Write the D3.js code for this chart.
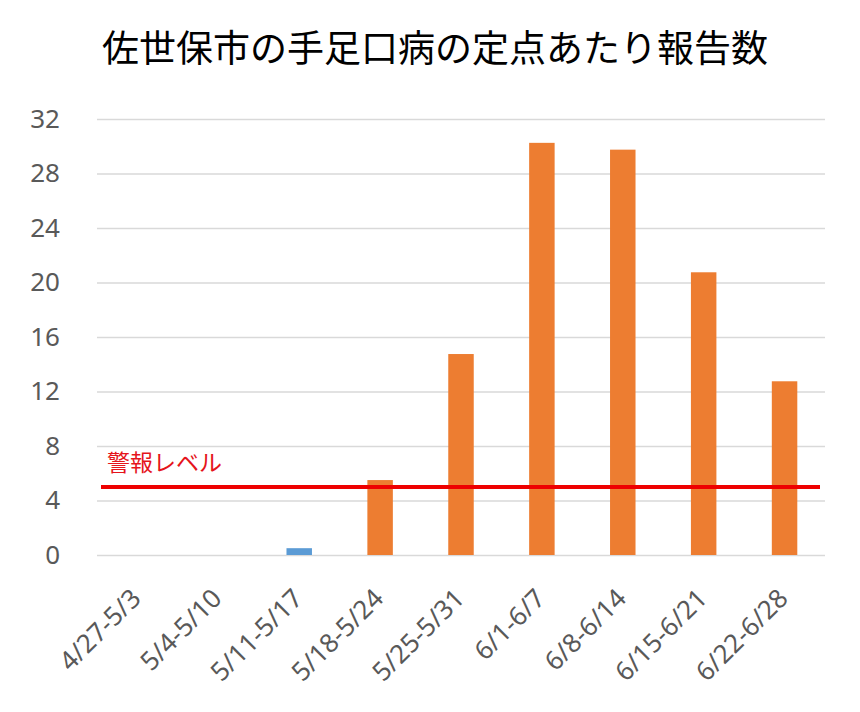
<!DOCTYPE html>
<html>
<head>
<meta charset="utf-8">
<script src="https://cdn.jsdelivr.net/npm/d3@7"></script>
<style>
  body { margin: 0; background: #fff; }
  svg { display: block; }
</style>
</head>
<body>
<div class="chart"></div>
<script>
// data
const title = "佐世保市の手足口病の定点あたり報告数";
const weeks = ["4/27-5/3", "5/4-5/10", "5/11-5/17", "5/18-5/24", "5/25-5/31",
               "6/1-6/7", "6/8-6/14", "6/15-6/21", "6/22-6/28"];
const reports = [0, 0, 0.5, 5.5, 14.75, 30.25, 29.75, 20.75, 12.75];
const alertLevel = 5;
const alertLabel = "警報レベル";
const yTicks = [0, 4, 8, 12, 16, 20, 24, 28, 32];

const width = 860, height = 712;
const margin = { top: 119, right: 35, bottom: 157, left: 97 };

const svg = d3.select(".chart").append("svg")
    .attr("width", width)
    .attr("height", height);

const x = d3.scaleBand()
    .domain(weeks)
    .range([margin.left, width - margin.right])
    .paddingInner(0.685)
    .paddingOuter(0.685 / 2);

const y = d3.scaleLinear()
    .domain([0, 32])
    .range([height - margin.bottom, margin.top]);

// title
svg.append("text")
    .attr("x", 435)
    .attr("y", 62)
    .attr("text-anchor", "middle")
    .style("font-family", "'Noto Sans CJK JP', sans-serif")
    .style("font-size", "37px")
    .style("fill", "#000")
    .text(title);

// gridlines + y labels
svg.append("g")
    .attr("transform", `translate(${margin.left},0)`)
    .call(d3.axisLeft(y).tickValues(yTicks).tickSize(0).tickPadding(37))
    .call(g => g.select(".domain").remove())
    .call(g => g.selectAll(".tick line").clone()
        .attr("x2", width - margin.right - margin.left)
        .attr("stroke", "#d9d9d9")
        .attr("stroke-width", 1.5))
    .call(g => g.selectAll(".tick text")
        .style("font-family", "'Noto Sans', sans-serif")
        .style("font-size", "26px")
        .style("fill", "#595959"));

// bars
svg.append("g")
    .selectAll("rect")
    .data(reports)
    .join("rect")
    .attr("x", (d, i) => x(weeks[i]))
    .attr("y", d => y(d))
    .attr("width", x.bandwidth())
    .attr("height", d => y(0) - y(d))
    .attr("fill", d => d >= alertLevel ? "#ed7d31" : "#5b9bd5");

// x labels
svg.append("g")
    .selectAll("text")
    .data(weeks)
    .join("text")
    .attr("transform", d => `translate(${x(d) + x.bandwidth() / 2 + 5},${y(0) + 45}) rotate(-45)`)
    .attr("text-anchor", "end")
    .style("font-family", "'Noto Sans', sans-serif")
    .style("font-size", "26px")
    .style("fill", "#595959")
    .text(d => d);

// alert line
svg.append("line")
    .attr("x1", margin.left + 4)
    .attr("x2", width - margin.right - 5)
    .attr("y1", y(alertLevel))
    .attr("y2", y(alertLevel))
    .attr("stroke", "#ee0000")
    .attr("stroke-width", 4);

svg.append("text")
    .attr("x", 107)
    .attr("y", y(alertLevel) - 16)
    .style("font-family", "'Noto Sans CJK JP', sans-serif")
    .style("font-size", "23px")
    .style("fill", "#e5141b")
    .text(alertLabel);
</script>
</body>
</html>
